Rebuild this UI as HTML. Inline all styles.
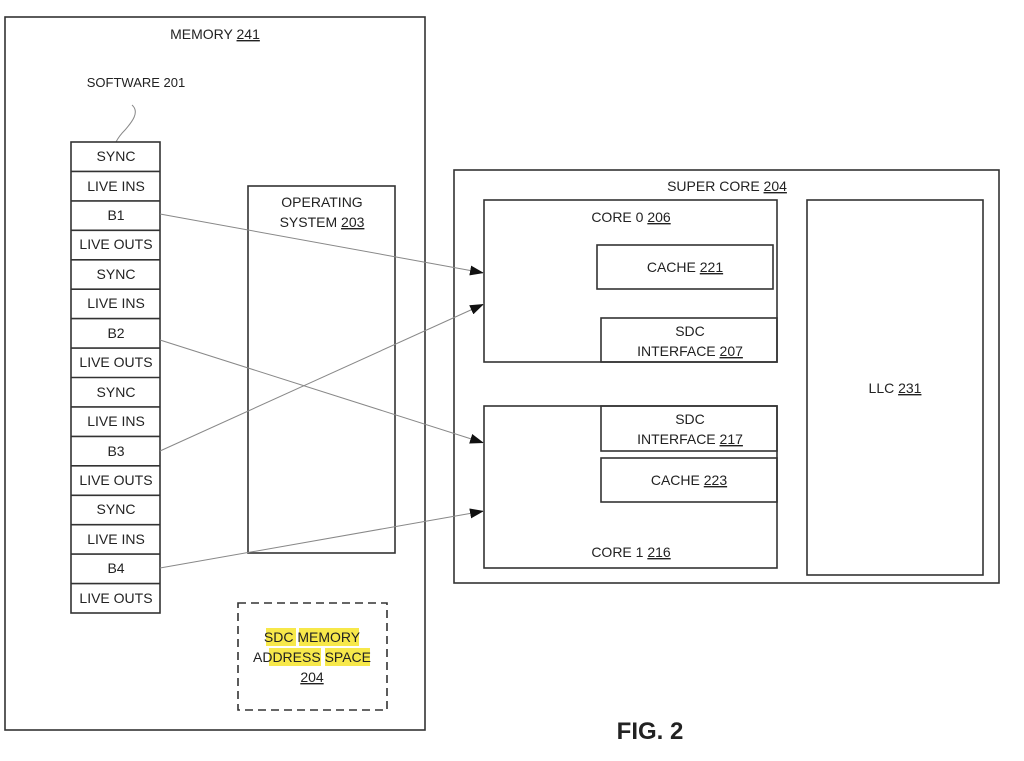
<!DOCTYPE html>
<html><head><style>body{margin:0;background:#fff}svg{display:block}text{font-family:"Liberation Sans",sans-serif;fill:#222}</style></head>
<body>
<svg width="1024" height="761" viewBox="0 0 1024 761" xmlns="http://www.w3.org/2000/svg">
<defs><marker id="a" markerWidth="14" markerHeight="10" refX="14" refY="5" orient="auto" markerUnits="userSpaceOnUse"><path d="M0,0L14,5L0,10z" fill="#111"/></marker></defs>
<g fill="none" stroke="#333" stroke-width="1.6">
<rect x="5" y="17" width="420" height="713"/>
<rect x="248" y="186" width="147" height="367"/>
<rect x="238" y="603" width="149" height="107" stroke-dasharray="8,5"/>
<rect x="454" y="170" width="545" height="413"/>
<rect x="484" y="200" width="293" height="162"/>
<rect x="597" y="245" width="176" height="44"/>
<rect x="601" y="318" width="176" height="44"/>
<rect x="484" y="406" width="293" height="162"/>
<rect x="601" y="406" width="176" height="45"/>
<rect x="601" y="458" width="176" height="44"/>
<rect x="807" y="200" width="176" height="375"/>
<path d="M132,105 C140,112 132,122 125,130 C120,135 118,138 116,142" stroke="#888" stroke-width="1"/>
</g>
<g fill="none" stroke="#333" stroke-width="1.6">
<rect x="71" y="142" width="89" height="471"/>
<path d="M71,171.4H160M71,200.9H160M71,230.3H160M71,259.8H160M71,289.2H160M71,318.6H160M71,348.1H160M71,377.5H160M71,406.9H160M71,436.4H160M71,465.8H160M71,495.3H160M71,524.7H160M71,554.1H160M71,583.6H160"/>
</g>
<g stroke="#888" stroke-width="1" marker-end="url(#a)">
<line x1="160" y1="214" x2="484" y2="273"/>
<line x1="160" y1="340" x2="484" y2="443"/>
<line x1="160" y1="451" x2="484" y2="304"/>
<line x1="160" y1="568" x2="484" y2="511"/>
</g>
<g font-size="14" text-anchor="middle">
<text x="116" y="161">SYNC</text><text x="116" y="191">LIVE INS</text><text x="116" y="220">B1</text><text x="116" y="249">LIVE OUTS</text>
<text x="116" y="279">SYNC</text><text x="116" y="308">LIVE INS</text><text x="116" y="338">B2</text><text x="116" y="367">LIVE OUTS</text>
<text x="116" y="397">SYNC</text><text x="116" y="426">LIVE INS</text><text x="116" y="456">B3</text><text x="116" y="485">LIVE OUTS</text>
<text x="116" y="514">SYNC</text><text x="116" y="544">LIVE INS</text><text x="116" y="573">B4</text><text x="116" y="603">LIVE OUTS</text>
<text x="215" y="39">MEMORY <tspan text-decoration="underline">241</tspan></text>
<text x="136" y="87" font-size="13">SOFTWARE 201</text>
<text x="322" y="207">OPERATING</text>
<text x="322" y="227">SYSTEM <tspan text-decoration="underline">203</tspan></text>
<text x="727" y="191">SUPER CORE <tspan text-decoration="underline">204</tspan></text>
<text x="631" y="222">CORE 0 <tspan text-decoration="underline">206</tspan></text>
<text x="685" y="272">CACHE  <tspan text-decoration="underline">221</tspan></text>
<text x="690" y="336">SDC</text>
<text x="690" y="356">INTERFACE <tspan text-decoration="underline">207</tspan></text>
<text x="690" y="424">SDC</text>
<text x="690" y="444">INTERFACE <tspan text-decoration="underline">217</tspan></text>
<text x="689" y="485">CACHE  <tspan text-decoration="underline">223</tspan></text>
<text x="631" y="557">CORE 1 <tspan text-decoration="underline">216</tspan></text>
<text x="895" y="393">LLC  <tspan text-decoration="underline">231</tspan></text>
</g>
<g fill="#f7e84a">
<rect x="266" y="628" width="30" height="18"/><rect x="299" y="628" width="60" height="18"/>
<rect x="269" y="648" width="52" height="18"/><rect x="325" y="648" width="45" height="18"/>
</g>
<g font-size="14" text-anchor="middle">
<text x="312" y="642">SDC MEMORY</text>
<text x="312" y="662">ADDRESS SPACE</text>
<text x="312" y="682" text-decoration="underline">204</text>
</g>
<text x="650" y="739" font-size="24" font-weight="bold" text-anchor="middle" fill="#111">FIG. 2</text>
</svg>
</body></html>
